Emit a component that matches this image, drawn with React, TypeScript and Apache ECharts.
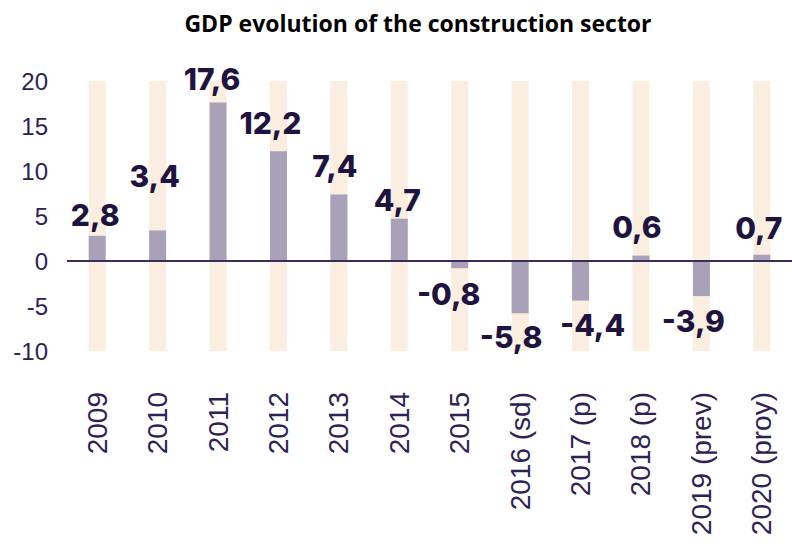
import React, { useEffect, useRef } from "react";
import * as echarts from "echarts";

const title = "GDP evolution of the construction sector";
const categories = [
  "2009", "2010", "2011", "2012", "2013", "2014", "2015",
  "2016 (sd)", "2017 (p)", "2018 (p)", "2019 (prev)", "2020 (proy)",
];
const values = [2.8, 3.4, 17.6, 12.2, 7.4, 4.7, -0.8, -5.8, -4.4, 0.6, -3.9, 0.7];
const yMin = -10;
const yMax = 20;
const yInterval = 5;
// label nudges (px)
const labelOffsets: number[][] = [
  [-2, 4], [-3, -29], [-6, 1], [-8, -3], [-4, -3], [-2, 6],
  [-11, 1], [-9, -1], [12, -1], [-4, -4], [-8, 0], [-3, -2],
];

const DARK = "#1f1440";
const AXIS_TXT = "#2c2255";

export default function App() {
  const ref = useRef<HTMLDivElement>(null);
  useEffect(() => {
    if (!ref.current) return;
    const chart = echarts.init(ref.current, undefined, { renderer: "svg" });
    const data = values.map((v, i) => ({
      value: v,
      label: {
        position: v >= 0 ? "top" : "bottom",
        offset: labelOffsets[i],
      },
    }));
    chart.setOption({
      animation: false,
      backgroundColor: "#ffffff",
      graphic: [
        {
          type: "text",
          x: 418,
          y: 23,
          style: {
            text: title,
            align: "center",
            verticalAlign: "middle",
            font: "bold 23px 'Open Sans'",
            fill: "#000000",
          },
        },
      ],
      grid: { left: 67, width: 734, top: 81, height: 270 },
      xAxis: {
        type: "category",
        data: categories,
        axisLine: { show: false, onZero: false },
        axisTick: { show: false },
        axisLabel: {
          rotate: 90,
          margin: 41,
          fontSize: 28,
          fontFamily: "Liberation Sans",
          color: AXIS_TXT,
          interval: 0,
        },
      },
      yAxis: {
        type: "value",
        min: yMin,
        max: yMax,
        interval: yInterval,
        splitLine: { show: false },
        axisLine: { show: false },
        axisTick: { show: false },
        axisLabel: {
          margin: 19,
          fontSize: 24,
          fontFamily: "Liberation Sans",
          color: AXIS_TXT,
        },
      },
      series: [
        {
          type: "bar",
          data,
          barWidth: 17,
          itemStyle: { color: "#a8a1b8" },
          showBackground: true,
          backgroundStyle: { color: "#faeee1" },
          label: {
            show: true,
            distance: 10,
            fontFamily: "Inter",
            fontWeight: 800,
            fontSize: 30,
            color: DARK,
            formatter: (p: any) => String(p.value).replace(".", ","),
          },
          markLine: {
            silent: true,
            symbol: "none",
            label: { show: false },
            lineStyle: { color: "#3a2d5c", width: 2, type: "solid" },
            data: [{ yAxis: 0 }],
          },
          z: 3,
        },
      ],
    });
    return () => chart.dispose();
  }, []);
  return (
    <div
      ref={ref}
      style={{ position: "absolute", left: 0, top: 0, width: 792, height: 544 }}
    />
  );
}
